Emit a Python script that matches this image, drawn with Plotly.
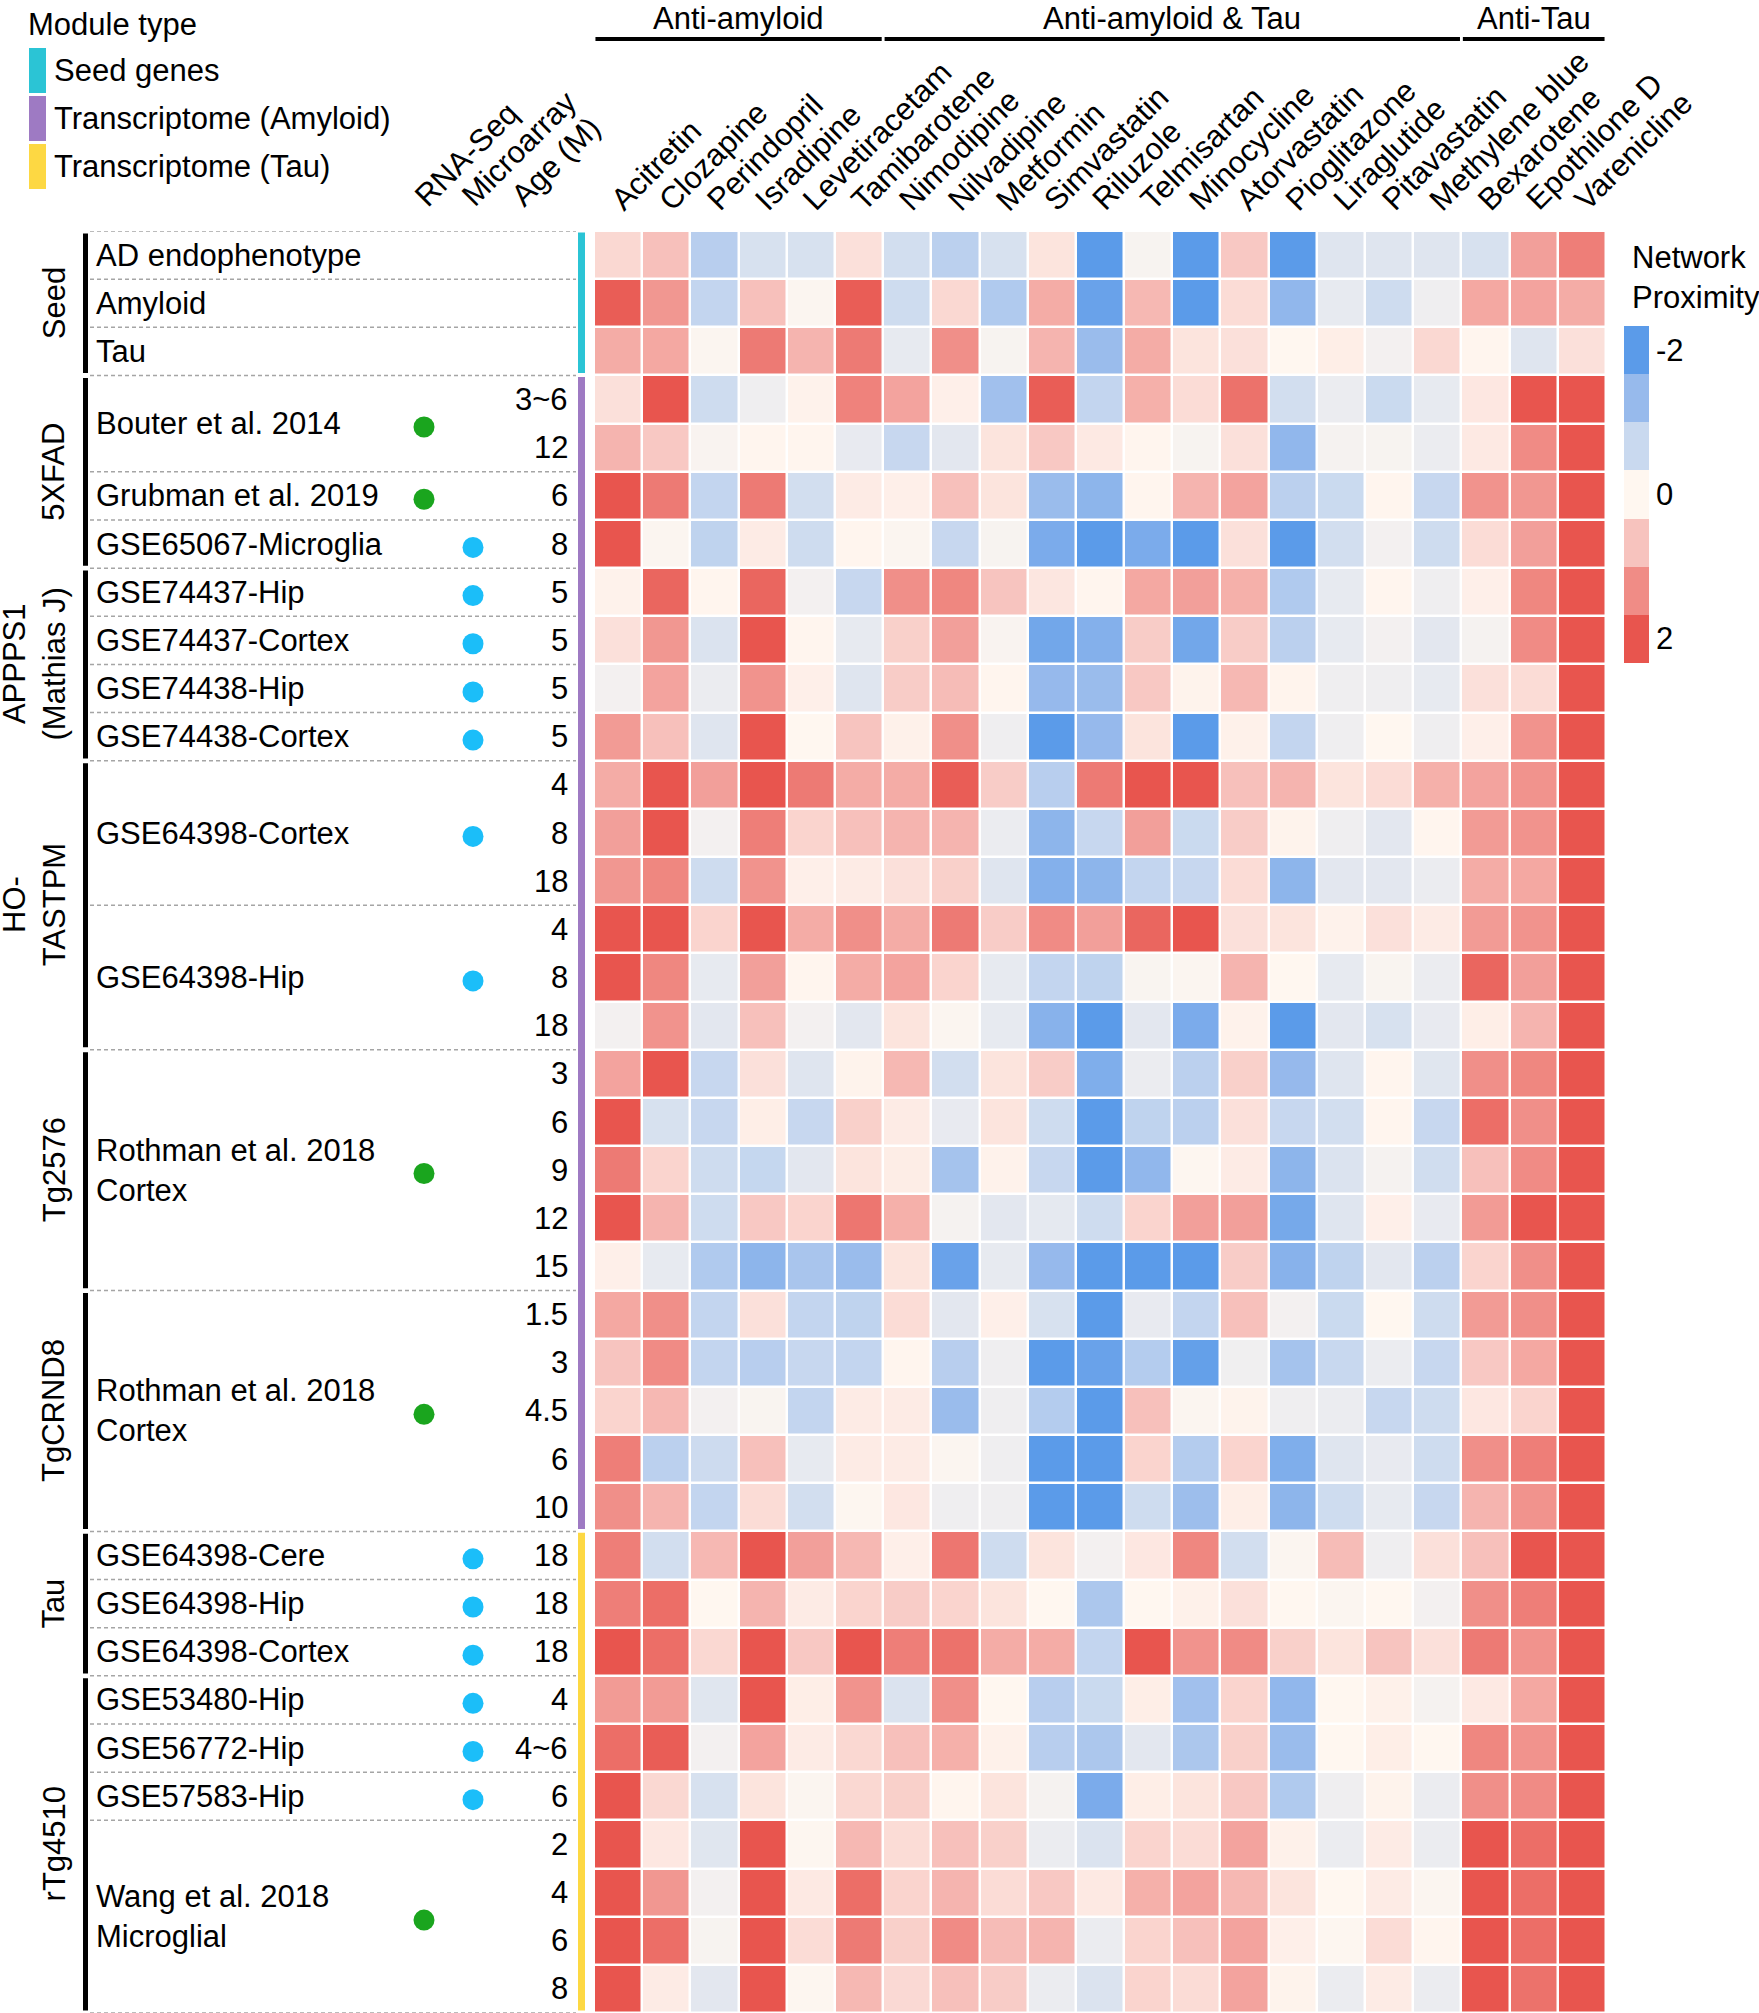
import plotly.graph_objects as go

# ---- data ----
drugs = ["Acitretin", "Clozapine", "Perindopril", "Isradipine", "Levetiracetam",
         "Tamibarotene", "Nimodipine", "Nilvadipine", "Metformin", "Simvastatin",
         "Riluzole", "Telmisartan", "Minocycline", "Atorvastatin", "Pioglitazone",
         "Liraglutide", "Pitavastatin", "Methylene blue", "Bexarotene",
         "Epothilone D", "Varenicline"]

drug_groups = [("Anti-amyloid", 0, 5), ("Anti-amyloid & Tau", 6, 17), ("Anti-Tau", 18, 20)]

seed_vals = [
    [0.4, 0.7, -0.9, -0.5, -0.5, 0.3, -0.55, -0.85, -0.5, 0.25, -2, -0.1, -2, 0.6, -2, -0.4, -0.4, -0.4, -0.5, 1.1, 1.5],
    [1.9, 1.2, -0.75, 0.7, -0.05, 1.9, -0.6, 0.4, -1.0, 0.95, -1.85, 0.8, -2, 0.35, -1.4, -0.3, -0.6, -0.2, 1.0, 1.05, 0.95],
    [0.95, 1.0, -0.05, 1.55, 0.85, 1.55, -0.3, 1.3, -0.1, 0.85, -1.3, 0.95, 0.25, 0.3, 0.0, 0.12, -0.15, 0.4, 0.03, -0.4, 0.3],
]
fxfad_vals = [
    [0.3, 2.0, -0.6, -0.2, 0.07, 1.45, 1.05, 0.1, -1.2, 1.9, -0.75, 0.9, 0.35, 1.65, -0.55, -0.25, -0.65, -0.3, 0.2, 2, 2],
    [0.85, 0.6, -0.08, 0.03, 0.02, -0.28, -0.7, -0.35, 0.25, 0.6, 0.18, 0.02, -0.1, 0.3, -1.4, -0.12, -0.1, -0.25, 0.18, 1.35, 2],
    [2, 1.55, -0.75, 1.55, -0.55, 0.15, 0.1, 0.7, 0.25, -1.3, -1.45, 0.02, 0.85, 1.05, -0.85, -0.65, 0.02, -0.7, 1.25, 1.2, 2],
    [2, -0.05, -0.8, 0.15, -0.6, 0.02, -0.05, -0.7, -0.1, -1.65, -2, -1.65, -2, 0.3, -2, -0.55, -0.15, -0.6, 0.35, 1.1, 2],
]
appps1_vals = [
    [0.07, 1.8, 0.03, 1.8, -0.15, -0.7, 1.3, 1.4, 0.65, 0.22, 0.02, 1.0, 1.1, 0.9, -1.0, -0.3, 0.03, -0.2, 0.1, 1.4, 2],
    [0.3, 1.2, -0.45, 2, 0.03, -0.3, 0.5, 1.1, -0.08, -1.75, -1.55, 0.55, -1.75, 0.55, -0.85, -0.3, -0.15, -0.35, -0.12, 1.35, 2],
    [-0.15, 1.05, -0.25, 1.25, 0.1, -0.4, 0.55, 0.75, 0.02, -1.35, -1.3, 0.6, 0.05, 0.8, 0.04, -0.2, -0.2, -0.3, 0.3, 0.35, 2],
    [1.15, 0.7, -0.4, 2, 0.0, 0.65, 0.08, 1.3, -0.2, -2, -1.35, 0.25, -2, 0.08, -0.75, -0.2, 0.0, -0.2, 0.1, 1.25, 2],
]
hotastpm_vals = [
    [0.95, 2, 1.1, 2, 1.55, 0.95, 0.95, 1.9, 0.55, -0.9, 1.55, 2, 2, 0.7, 0.85, 0.25, 0.35, 0.9, 1.05, 1.25, 2],
    [1.1, 2, -0.15, 1.5, 0.45, 0.7, 0.85, 0.85, -0.25, -1.45, -0.7, 1.1, -0.65, 0.55, 0.05, -0.2, -0.35, 0.03, 1.15, 1.25, 2],
    [1.2, 1.4, -0.6, 1.25, 0.1, 0.15, 0.3, 0.5, -0.4, -1.55, -1.45, -0.75, -0.7, 0.35, -1.45, -0.35, -0.35, -0.25, 0.95, 1.0, 2],
    [2, 2, 0.45, 2, 0.95, 1.3, 0.95, 1.55, 0.55, 1.35, 1.1, 1.8, 2, 0.3, 0.25, 0.07, 0.3, 0.15, 1.15, 1.25, 2],
    [2, 1.4, -0.3, 1.1, 0.03, 0.95, 1.05, 0.45, -0.3, -0.75, -0.8, -0.07, -0.05, 0.85, 0.0, -0.3, -0.07, -0.25, 1.8, 1.1, 2],
    [-0.15, 1.25, -0.35, 0.7, -0.15, -0.35, 0.25, -0.05, -0.3, -1.5, -2, -0.35, -1.65, 0.07, -2, -0.35, -0.5, -0.28, 0.12, 0.85, 2],
]
tg2576_vals = [
    [1.05, 2, -0.7, 0.3, -0.4, 0.05, 0.8, -0.55, 0.25, 0.55, -1.6, -0.25, -0.85, 0.5, -1.35, -0.4, 0.02, -0.38, 1.3, 1.4, 2],
    [2, -0.5, -0.7, 0.12, -0.7, 0.5, 0.15, -0.28, 0.25, -0.6, -2, -0.8, -0.85, 0.3, -0.7, -0.55, 0.02, -0.7, 1.7, 1.3, 2],
    [1.55, 0.45, -0.6, -0.72, -0.35, 0.25, 0.13, -1.15, 0.07, -0.7, -2, -1.4, -0.03, 0.15, -1.45, -0.45, -0.12, -0.58, 0.7, 1.35, 2],
    [2, 0.85, -0.6, 0.6, 0.45, 1.6, 0.9, -0.12, -0.35, -0.32, -0.6, 0.45, 1.1, 1.1, -1.7, -0.4, 0.1, -0.28, 1.15, 2, 2],
    [0.1, -0.3, -1.0, -1.45, -1.1, -1.3, 0.25, -1.85, -0.3, -1.35, -2, -2, -2, 0.55, -1.5, -0.8, -0.35, -0.85, 0.45, 1.3, 2],
]
tgcrnd8_vals = [
    [1.0, 1.3, -0.75, 0.3, -0.75, -0.8, 0.35, -0.35, 0.1, -0.5, -2, -0.28, -0.75, 0.7, -0.15, -0.65, 0.0, -0.6, 1.15, 1.3, 2],
    [0.65, 1.35, -0.75, -0.9, -0.7, -0.75, 0.03, -0.9, -0.2, -2, -1.85, -0.95, -1.9, -0.18, -1.15, -0.68, -0.25, -0.7, 0.6, 1.0, 2],
    [0.45, 0.8, -0.15, -0.07, -0.75, 0.15, 0.15, -1.3, -0.2, -0.95, -2, 0.7, -0.05, 0.05, -0.2, -0.25, -0.7, -0.6, 0.2, 0.45, 2],
    [1.5, -0.85, -0.62, 0.7, -0.3, 0.15, 0.15, -0.05, -0.2, -2, -2, 0.45, -0.95, 0.45, -1.6, -0.4, -0.28, -0.6, 1.3, 1.5, 2],
    [1.3, 0.85, -0.75, 0.35, -0.55, -0.02, 0.2, -0.2, -0.2, -2, -2, -0.6, -1.25, 0.12, -1.45, -0.6, -0.3, -0.7, 0.85, 1.25, 2],
]
tau_vals = [
    [1.5, -0.55, 0.8, 2, 1.1, 0.8, 0.1, 1.6, -0.6, 0.25, -0.15, 0.2, 1.4, -0.55, -0.05, 0.75, -0.2, 0.3, 0.7, 2, 2],
    [1.5, 1.7, 0.0, 0.85, 0.15, 0.45, 0.55, 0.45, 0.25, 0.0, -1.05, 0.0, 0.08, 0.3, 0.0, -0.05, 0.0, -0.15, 1.3, 1.5, 2],
    [2, 1.7, 0.4, 2, 0.6, 2, 1.5, 1.65, 0.95, 0.95, -0.75, 2, 1.25, 1.35, 0.5, 0.25, 0.65, 0.3, 1.55, 1.25, 2],
]
rtg4510_vals = [
    [1.15, 1.15, -0.38, 2, 0.12, 1.25, -0.45, 1.3, 0.0, -0.9, -0.65, 0.12, -1.2, 0.45, -1.4, 0.0, 0.08, -0.12, 0.18, 1.0, 2],
    [1.7, 1.9, -0.15, 1.05, 0.15, 0.4, 0.7, 0.9, 0.08, -0.9, -1.05, -0.35, -1.05, 0.5, -1.3, 0.0, 0.12, 0.0, 1.4, 1.25, 2],
    [2, 0.4, -0.5, 0.25, -0.05, 0.4, 0.5, 0.03, 0.25, -0.12, -1.65, 0.12, 0.25, 0.6, -1.0, -0.2, 0.05, -0.25, 1.3, 1.35, 2],
    [2, 0.2, -0.38, 2, -0.03, 0.8, 0.35, 0.7, 0.5, -0.25, -0.45, 0.45, 0.35, 1.05, 0.08, -0.25, 0.15, -0.25, 2, 1.7, 2],
    [2, 1.2, -0.15, 2, 0.18, 1.7, 0.45, 0.85, 0.35, 0.6, 0.18, 0.9, 1.05, 0.8, 0.25, 0.0, 0.15, -0.05, 2, 1.7, 2],
    [2, 1.7, -0.1, 2, 0.35, 1.55, 0.5, 1.35, 0.75, 0.85, -0.25, 0.45, 0.7, 1.05, 0.1, -0.03, 0.35, 0.02, 2, 1.7, 2],
    [2, 0.15, -0.35, 2, -0.03, 0.8, 0.38, 0.7, 0.55, -0.25, -0.45, 0.45, 0.35, 1.05, 0.05, -0.25, 0.15, -0.25, 2, 1.65, 2],
]

ages = ["", "", "", "3~6", "12", "6", "8", "5", "5", "5", "5", "4", "8", "18", "4", "8", "18",
        "3", "6", "9", "12", "15", "1.5", "3", "4.5", "6", "10", "18", "18", "18",
        "4", "4~6", "6", "2", "4", "6", "8"]

# (first row, number of rows, label, platform)
datasets = [
    (0, 1, "AD endophenotype", None), (1, 1, "Amyloid", None), (2, 1, "Tau", None),
    (3, 2, "Bouter et al. 2014", "rna"), (5, 1, "Grubman et al. 2019", "rna"),
    (6, 1, "GSE65067-Microglia", "array"),
    (7, 1, "GSE74437-Hip", "array"), (8, 1, "GSE74437-Cortex", "array"),
    (9, 1, "GSE74438-Hip", "array"), (10, 1, "GSE74438-Cortex", "array"),
    (11, 3, "GSE64398-Cortex", "array"), (14, 3, "GSE64398-Hip", "array"),
    (17, 5, "Rothman et al. 2018<br>Cortex", "rna"),
    (22, 5, "Rothman et al. 2018<br>Cortex", "rna"),
    (27, 1, "GSE64398-Cere", "array"), (28, 1, "GSE64398-Hip", "array"),
    (29, 1, "GSE64398-Cortex", "array"),
    (30, 1, "GSE53480-Hip", "array"), (31, 1, "GSE56772-Hip", "array"),
    (32, 1, "GSE57583-Hip", "array"),
    (33, 4, "Wang et al. 2018<br>Microglial", "rna"),
]

# (label, first row, last row)
models = [("Seed", 0, 2), ("5XFAD", 3, 6), ("APPPS1<br>(Mathias J)", 7, 10),
          ("HO-<br>TASTPM", 11, 16), ("Tg2576", 17, 21), ("TgCRND8", 22, 26),
          ("Tau", 27, 29), ("rTg4510", 30, 36)]

# (module type, first row, last row)
modules = [("Seed genes", 0, 2), ("Transcriptome (Amyloid)", 3, 26), ("Transcriptome (Tau)", 27, 36)]
module_colors = {"Seed genes": "#2BC4D5", "Transcriptome (Amyloid)": "#9E7AC3",
                 "Transcriptome (Tau)": "#FDD843"}

legend_levels = [-2, -1.333, -0.667, 0, 0.667, 1.333, 2]

z = seed_vals + fxfad_vals + appps1_vals + hotastpm_vals + tg2576_vals + tgcrnd8_vals + tau_vals + rtg4510_vals
n_rows = len(z)

# ---- layout helpers (pixel -> paper) ----
W, H = 1759, 2013
def px(x):
    return x / W
def py(y):
    return 1 - y / H

FONT = "Arial, Liberation Sans, sans-serif"
FS = 31
colorscale = [[0, "#5B9BE9"], [1/6, "#97BAEC"], [2/6, "#C9D9EF"], [0.5, "#FFF7F0"],
              [4/6, "#F7C3BE"], [5/6, "#F08C86"], [1, "#E8554E"]]

fig = go.Figure()

fig.add_trace(go.Heatmap(z=z, x=list(range(len(drugs))), y=list(range(n_rows)),
                         colorscale=colorscale, zmin=-2, zmax=2, xgap=2.5, ygap=2.5,
                         showscale=False, hoverongaps=False))

# colour key as its own little heatmap
fig.add_trace(go.Heatmap(z=[[v] for v in legend_levels], colorscale=colorscale,
                         zmin=-2, zmax=2, showscale=False, xaxis="x2", yaxis="y2"))

# platform dots
dot_x, dot_y, dot_c = [], [], []
for start, n, label, plat in datasets:
    if plat is None:
        continue
    dot_x.append(424 if plat == "rna" else 473)
    dot_y.append(start + n / 2 - 0.5 + 0.07)
    dot_c.append("#1AA51E" if plat == "rna" else "#1BBEF9")
fig.add_trace(go.Scatter(x=dot_x, y=dot_y, mode="markers", xaxis="x3", yaxis="y3",
                         marker=dict(size=21, color=dot_c), hoverinfo="skip"))

annotations = []
shapes = []

# drug names
for i, d in enumerate(drugs):
    annotations.append(dict(x=i - 0.36, y=py(220), xref="x", yref="paper", text=d,
                            textangle=-45, xanchor="left", yanchor="bottom",
                            showarrow=False, font=dict(size=FS)))
# drug groups
for name, a, b in drug_groups:
    annotations.append(dict(x=(a + b) / 2, y=py(18), xref="x", yref="paper", text=name,
                            xanchor="center", yanchor="middle", showarrow=False,
                            font=dict(size=FS)))
    shapes.append(dict(type="line", xref="x", yref="paper", x0=a - 0.47, x1=b + 0.47,
                       y0=py(39), y1=py(39), line=dict(color="black", width=4)))

# dataset labels, ages, dashed separators
for start, n, label, plat in datasets:
    annotations.append(dict(x=px(94), y=start + n / 2 - 0.5, xref="paper", yref="y",
                            text=label, xanchor="left", yanchor="middle", align="left",
                            showarrow=False, font=dict(size=FS)))
    shapes.append(dict(type="line", xref="paper", yref="y", x0=px(90), x1=px(576),
                       y0=start - 0.5, y1=start - 0.5,
                       line=dict(color="#A5A5A5", width=1.5, dash="4px,3px")))
shapes.append(dict(type="line", xref="paper", yref="y", x0=px(90), x1=px(576),
                   y0=n_rows - 0.5, y1=n_rows - 0.5,
                   line=dict(color="#A5A5A5", width=1.5, dash="4px,3px")))
for r, a in enumerate(ages):
    if a:
        annotations.append(dict(x=px(570), y=r, xref="paper", yref="y", text=a,
                                xanchor="right", yanchor="middle", showarrow=False,
                                font=dict(size=FS)))

# model groups with black bars
for name, a, b in models:
    annotations.append(dict(x=px(34) if "<br>" in name else px(54), y=(a + b) / 2,
                            xref="paper", yref="y", text=name, textangle=-90,
                            xanchor="center", yanchor="middle", showarrow=False,
                            font=dict(size=FS)))
    shapes.append(dict(type="line", xref="paper", yref="y", x0=px(85.5), x1=px(85.5),
                       y0=a - 0.45, y1=b + 0.45, line=dict(color="black", width=5)))

# module type strip
for name, a, b in modules:
    shapes.append(dict(type="line", xref="paper", yref="y", x0=px(581.5), x1=px(581.5),
                       y0=a - 0.47, y1=b + 0.45, line=dict(color=module_colors[name], width=7)))

# module legend
annotations.append(dict(x=px(26), y=py(25), xref="paper", yref="paper", text="Module type",
                        xanchor="left", yanchor="middle", showarrow=False, font=dict(size=FS)))
for k, (name, a, b) in enumerate(modules):
    top = 48 + k * 48
    shapes.append(dict(type="rect", xref="paper", yref="paper", x0=px(29), x1=px(46),
                       y0=py(top), y1=py(top + 45), fillcolor=module_colors[name], line=dict(width=0)))
    annotations.append(dict(x=px(52), y=py(top + 23), xref="paper", yref="paper", text=name,
                            xanchor="left", yanchor="middle", showarrow=False,
                            font=dict(size=FS)))

# column headers of the left table
for txt, x in [("RNA-Seq", 405), ("Microarray", 452), ("Age (M)", 502)]:
    annotations.append(dict(x=px(x), y=py(216), xref="paper", yref="paper", text=txt,
                            textangle=-45, xanchor="left", yanchor="bottom",
                            showarrow=False, font=dict(size=FS)))

# colour key labels
annotations.append(dict(x=px(1630), y=py(277), xref="paper", yref="paper",
                        text="Network<br>Proximity", xanchor="left", yanchor="middle",
                        align="left", showarrow=False, font=dict(size=FS)))
for idx, t in [(0, "-2"), (3, "0"), (6, "2")]:
    annotations.append(dict(x=px(1654), y=idx, xref="paper", yref="y2", text=t,
                            xanchor="left", yanchor="middle", showarrow=False,
                            font=dict(size=FS)))

fig.update_layout(
    width=W, height=H, margin=dict(l=0, r=0, t=0, b=0),
    paper_bgcolor="white", plot_bgcolor="white",
    font=dict(family=FONT, size=FS, color="black"),
    showlegend=False,
    xaxis=dict(domain=[px(594), px(1606)], range=[-0.5, len(drugs) - 0.5], visible=False),
    yaxis=dict(domain=[0, py(231)], range=[n_rows - 0.5, -0.5], visible=False),
    xaxis2=dict(domain=[px(1624), px(1649)], range=[-0.5, 0.5], visible=False, anchor="y2"),
    yaxis2=dict(domain=[py(663), py(326)], range=[6.5, -0.5], visible=False, anchor="x2"),
    xaxis3=dict(domain=[0, px(589)], range=[0, 589], visible=False, anchor="y3"),
    yaxis3=dict(domain=[0, py(231)], range=[n_rows - 0.5, -0.5], visible=False, anchor="x3"),
    annotations=annotations,
    shapes=shapes,
)

# drop the default page margin so the figure sits at the window's corner
fig.write_html("out.html", config={"displayModeBar": False},
               post_script="document.body.style.margin='0';")
